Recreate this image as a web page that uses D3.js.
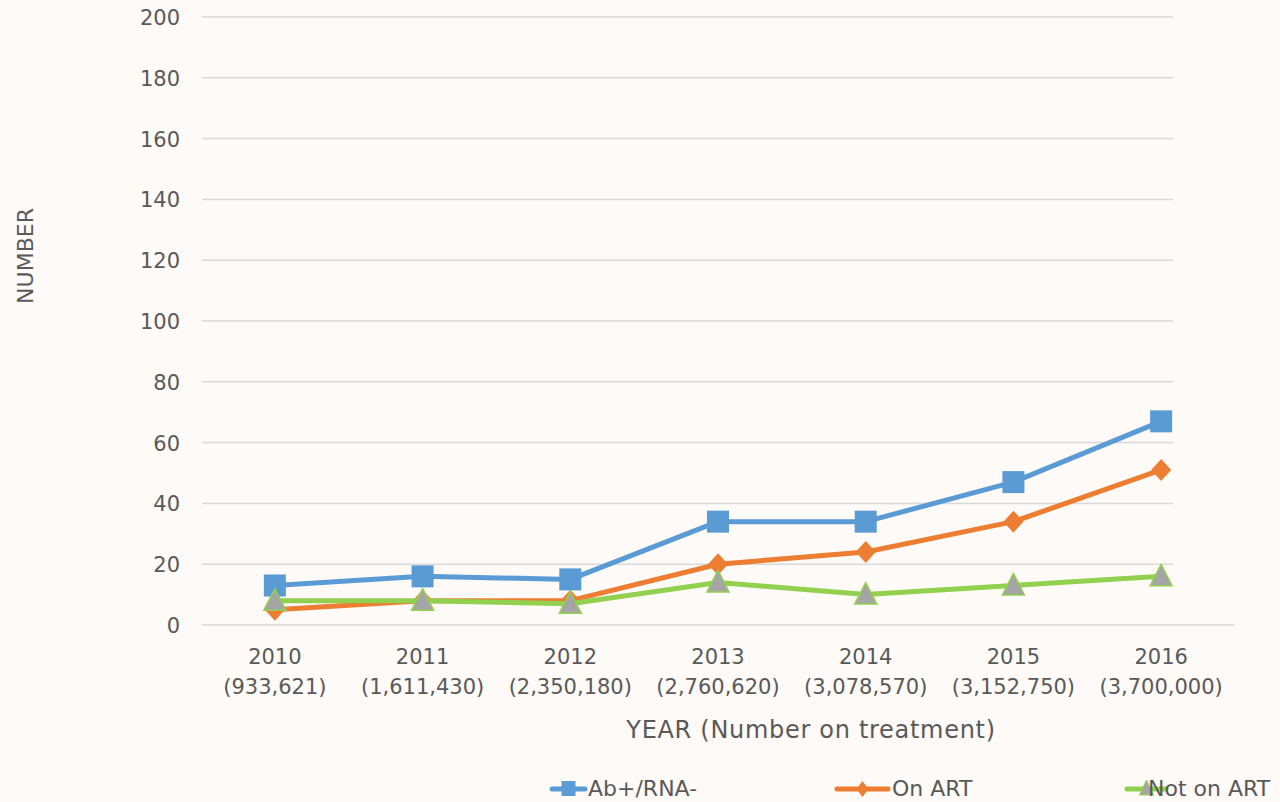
<!DOCTYPE html>
<html>
<head>
<meta charset="utf-8">
<script src="https://cdn.jsdelivr.net/npm/d3@7/dist/d3.min.js"></script>
<style>
  html, body { margin: 0; padding: 0; background: #fdfaf7; }
  svg { display: block; }
  text { font-family: "DejaVu Sans", sans-serif; fill: #595959; }
</style>
</head>
<body>
<svg id="chart" width="1280" height="802"></svg>
<script>
// Years and the number of people on treatment in each year
const years = ["2010", "2011", "2012", "2013", "2014", "2015", "2016"];
const onTreatment = ["933,621", "1,611,430", "2,350,180", "2,760,620", "3,078,570", "3,152,750", "3,700,000"];

// Series values
const abRnaNeg = [13, 16, 15, 34, 34, 47, 67];
const onArt = [5, 8, 8, 20, 24, 34, 51];
const notOnArt = [8, 8, 7, 14, 10, 13, 16];

const yTicks = [0, 20, 40, 60, 80, 100, 120, 140, 160, 180, 200];

const series = [
  { name: "Ab+/RNA-", values: abRnaNeg, color: "#5b9bd5", marker: "square" },
  { name: "On ART", values: onArt, color: "#ed7d31", marker: "diamond" },
  { name: "Not on ART", values: notOnArt, color: "#92d050", marker: "triangle" }
];

const svg = d3.select("#chart");

const x = d3.scaleBand().domain(years).range([201, 1235]);
const y = d3.scaleLinear().domain([0, 200]).range([625, 17]);
const plotRight = 1173;

// Plot area clip (markers at the right edge are cut off by it)
svg.append("defs").append("clipPath").attr("id", "plot-clip")
  .append("rect").attr("x", 0).attr("y", 0).attr("width", plotRight).attr("height", 802);

// Horizontal gridlines
svg.append("g")
  .selectAll("line")
  .data(yTicks.filter(d => d > 0))
  .join("line")
  .attr("x1", 202).attr("x2", plotRight)
  .attr("y1", d => y(d)).attr("y2", d => y(d))
  .attr("stroke", "#d9d9d9").attr("stroke-width", 1.5);

// Category axis baseline
svg.append("line")
  .attr("x1", 202).attr("x2", 1234)
  .attr("y1", y(0)).attr("y2", y(0))
  .attr("stroke", "#d9d9d9").attr("stroke-width", 1.5);

// Value axis labels
const yAxis = d3.axisLeft(y).tickValues(yTicks).tickSize(0).tickPadding(0);
const gy = svg.append("g").attr("transform", "translate(180,0)").call(yAxis);
gy.select(".domain").remove();
gy.selectAll("text")
  .attr("font-size", 21)
  .attr("font-family", "'DejaVu Sans', sans-serif")
  .attr("fill", "#595959")
  .attr("dy", "0.36em");

// Category labels (year + number on treatment)
const gx = svg.append("g");
years.forEach((yr, i) => {
  const cx = x(yr) + x.bandwidth() / 2;
  const t = gx.append("text")
    .attr("text-anchor", "middle")
    .attr("font-size", 21);
  t.append("tspan").attr("x", cx).attr("y", 664).text(yr);
  t.append("tspan").attr("x", cx).attr("y", 694).text("(" + onTreatment[i] + ")");
});

// Axis titles
svg.append("text")
  .attr("x", 811).attr("y", 738)
  .attr("text-anchor", "middle")
  .attr("font-size", 24)
  .attr("letter-spacing", 0.7)
  .text("YEAR (Number on treatment)");

svg.append("text")
  .attr("transform", "translate(33,256) rotate(-90)")
  .attr("text-anchor", "middle")
  .attr("font-size", 22)
  .text("NUMBER");

const line = d3.line()
  .x((d, i) => x(years[i]) + x.bandwidth() / 2)
  .y(d => y(d));

function drawMarker(g, type, color, cx, cy) {
  if (type === "square") {
    g.append("rect")
      .attr("x", cx - 11).attr("y", cy - 11)
      .attr("width", 22).attr("height", 22)
      .attr("fill", color);
  } else if (type === "diamond") {
    g.append("path")
      .attr("d", `M${cx},${cy - 11} L${cx + 10},${cy} L${cx},${cy + 11} L${cx - 10},${cy} Z`)
      .attr("fill", color);
  } else {
    g.append("path")
      .attr("d", `M${cx},${cy - 12} L${cx + 11},${cy + 9.5} L${cx - 11},${cy + 9.5} Z`)
      .attr("fill", "#a5a5a5")
      .attr("stroke", color)
      .attr("stroke-width", 1.5);
  }
}

// Series lines and markers
const plot = svg.append("g").attr("clip-path", "url(#plot-clip)");
series.forEach(s => {
  const g = plot.append("g");
  g.append("path")
    .datum(s.values)
    .attr("d", line)
    .attr("fill", "none")
    .attr("stroke", s.color)
    .attr("stroke-width", 5)
    .attr("stroke-linejoin", "round")
    .attr("stroke-linecap", "round");
  s.values.forEach((v, i) => {
    drawMarker(g, s.marker, s.color, x(years[i]) + x.bandwidth() / 2, y(v));
  });
});

// Legend
const legendItems = [
  { x1: 552, x2: 585, tx: 588 },
  { x1: 837, x2: 888, tx: 892 },
  { x1: 1127, x2: 1166, tx: 1148 }
];
series.forEach((s, i) => {
  const L = legendItems[i];
  const g = svg.append("g");
  const ly = 789;
  g.append("line")
    .attr("x1", L.x1).attr("x2", L.x2)
    .attr("y1", ly).attr("y2", ly)
    .attr("stroke", s.color).attr("stroke-width", 5)
    .attr("stroke-linecap", "round");
  const mx = (L.x1 + L.x2) / 2;
  if (s.marker === "square") {
    g.append("rect").attr("x", mx - 7).attr("y", ly - 8).attr("width", 14).attr("height", 15).attr("fill", s.color);
  } else if (s.marker === "diamond") {
    g.append("path")
      .attr("d", `M${mx},${ly - 8} L${mx + 6},${ly} L${mx},${ly + 8} L${mx - 6},${ly} Z`)
      .attr("fill", s.color);
  } else {
    g.append("path")
      .attr("d", `M${mx},${ly - 9} L${mx + 7},${ly + 6} L${mx - 7},${ly + 6} Z`)
      .attr("fill", "#a5a5a5").attr("stroke", s.color).attr("stroke-width", 1);
  }
  g.append("text")
    .attr("x", L.tx).attr("y", 796)
    .attr("font-size", 22)
    .text(s.name);
});
</script>
</body>
</html>
